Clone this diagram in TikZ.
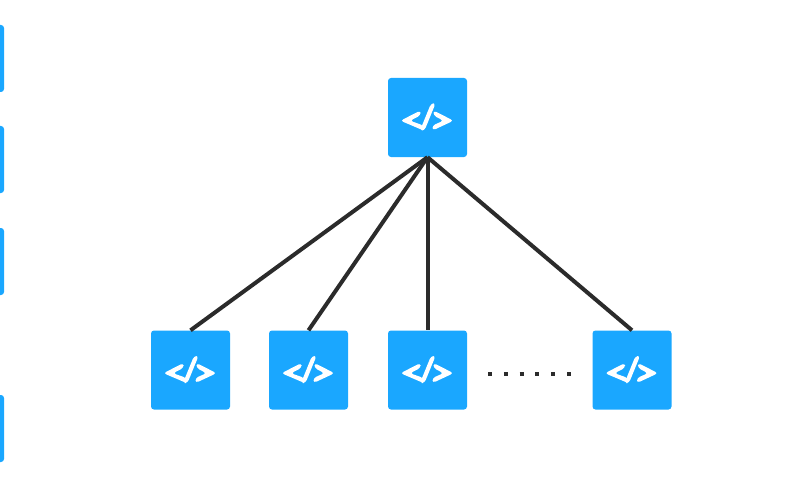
\documentclass[tikz,border=0pt]{standalone}
\usepackage{tikz}
\usetikzlibrary{calc}
\definecolor{boxblue}{HTML}{1AA7FF}
\definecolor{linegray}{HTML}{2B2B2B}
\tikzset{
  edgeline/.style={draw=linegray, line width=4pt},
  dotline/.style={draw=linegray, line width=4pt, dash pattern=on 4pt off 11.8pt},
  sidebox/.style={fill=boxblue, rounded corners=3pt, minimum width=79pt, minimum height=67pt, inner sep=0pt},
  codebox/.style={fill=boxblue, rounded corners=3pt, minimum size=79pt, inner sep=0pt,
    path picture={
      \begin{scope}[shift={(path picture bounding box.center)}]
        % Left and right brackets, then the slash
        \fill[white] (-7,-7) -- (-27,3.2) -- (-4,13) -- (-4,8) -- (-17.5,3.2) -- (-7,-2) -- cycle;
        \fill[white] (6,-7) -- (26,3.2) -- (5,13) -- (5,8) -- (16,3.2) -- (6,-2) -- cycle;
        \fill[white] (3.5,-14) -- (8,-14) -- (-3,13) -- (-7.5,13) -- cycle;
      \end{scope}
    }},
}
\begin{document}
\begin{tikzpicture}[x=1pt, y=-1pt]
    \useasboundingbox (0,0) rectangle (800,500);

    % Boxes cut off by the left edge
    \node[sidebox] (side1) at (-35.5,58.5) {};
    \node[sidebox] (side2) at (-35.5,159.5) {};
    \node[sidebox] (side3) at (-35.5,261.5) {};
    \node[sidebox] (side4) at (-35.5,428.5) {};

    % The parent and its children
    \node[codebox] (root) at (427.5,117.5) {};
    \node[codebox] (leafA) at (190.5,370) {};
    \node[codebox] (leafB) at (308.5,370) {};
    \node[codebox] (leafC) at (427.5,370) {};
    \node[codebox] (leafD) at (632,370) {};

    \foreach \leaf in {leafA,leafB,leafC,leafD}
      \draw[edgeline] (root.south) -- (\leaf.north);

    % Dots between the last two children
    \coordinate (dotstart) at (488,373.5);
    \coordinate (dotend) at (572,373.5);
    \draw[dotline] (dotstart) -- (dotend);
\end{tikzpicture}
\end{document}
